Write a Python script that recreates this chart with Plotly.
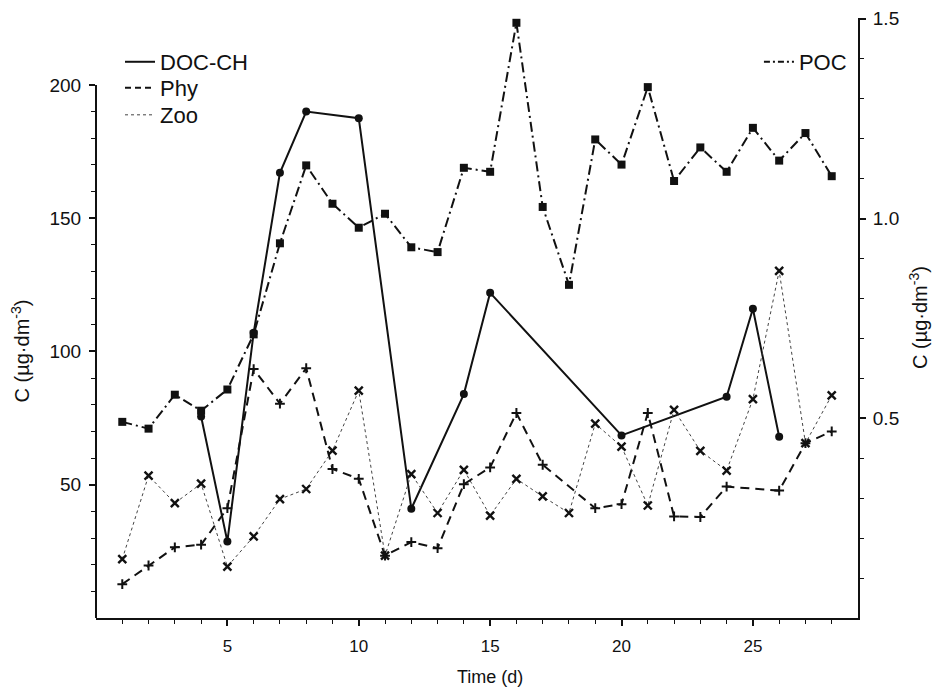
import plotly.graph_objects as go

# ---- data ----
doc_days = [4, 5, 6, 7, 8, 10, 12, 14, 15, 20, 24, 25, 26]
doc_vals = [75.6, 28.7, 107, 167, 190, 187.5, 41, 84, 122, 68.5, 83, 116, 68]

phy_days = [1, 2, 3, 4, 5, 6, 7, 8, 9, 10, 11, 12, 13, 14, 15, 16, 17, 19, 20, 21, 22, 23, 24, 26, 27, 28]
phy_vals = [12.7, 19.7, 26.5, 27.5, 41.2, 93.4, 80.4, 93.7, 55.9, 52.2, 23.4, 28.5, 26.2, 50.2,
            56.5, 76.9, 57.5, 41.2, 42.7, 76.9, 38.1, 37.9, 49.3, 47.8, 65.6, 70]

zoo_days = list(range(1, 29))
zoo_vals = [22.1, 53.4, 43.1, 50.4, 19.3, 30.6, 44.6, 48.4, 62.8, 85.3, 23.4, 54.0, 39.4, 55.6,
            38.4, 52.2, 45.6, 39.4, 72.9, 64.3, 42.2, 78.1, 62.7, 55.3, 82.1, 130.2, 65.6, 83.5]

poc_days = list(range(1, 29))
poc_vals = [0.491, 0.474, 0.559, 0.519, 0.572, 0.710, 0.938, 1.133, 1.037, 0.977, 1.012, 0.928,
            0.916, 1.127, 1.117, 1.490, 1.029, 0.834, 1.198, 1.135, 1.329, 1.094, 1.178, 1.117,
            1.227, 1.145, 1.214, 1.106]

x_ticks = [5, 10, 15, 20, 25]
y_ticks = [50, 100, 150, 200]
y2_ticks = [0.5, 1.0, 1.5]
y2_ticktext = ["0.5", "1.0", "1.5"]

FONT = "Liberation Sans, Arial, Helvetica, sans-serif"
BLACK = "#111111"

fig = go.Figure()

# data traces
fig.add_trace(go.Scatter(x=doc_days, y=doc_vals, mode="lines+markers", showlegend=False,
                         line=dict(color=BLACK, width=2),
                         marker=dict(symbol="circle", size=8, color=BLACK)))
fig.add_trace(go.Scatter(x=phy_days, y=phy_vals, mode="lines+markers", showlegend=False,
                         line=dict(color=BLACK, width=2, dash="9px,6px"),
                         marker=dict(symbol="cross-thin", size=7, color=BLACK,
                                     line=dict(color=BLACK, width=2))))
fig.add_trace(go.Scatter(x=zoo_days, y=zoo_vals, mode="lines+markers", showlegend=False,
                         line=dict(color="#444444", width=1, dash="dot"),
                         marker=dict(symbol="x-thin", size=8, color=BLACK,
                                     line=dict(color=BLACK, width=2.4))))
fig.add_trace(go.Scatter(x=poc_days, y=poc_vals, yaxis="y2", mode="lines+markers", showlegend=False,
                         line=dict(color=BLACK, width=2, dash="10px,4px,2px,4px"),
                         marker=dict(symbol="square", size=8, color=BLACK)))

# legend-only entries (lines only, as in the reference)
fig.add_trace(go.Scatter(x=[None], y=[None], mode="lines", name="DOC-CH", legend="legend",
                         line=dict(color=BLACK, width=2)))
fig.add_trace(go.Scatter(x=[None], y=[None], mode="lines", name="Phy", legend="legend2",
                         line=dict(color=BLACK, width=2, dash="6px,4px")))
fig.add_trace(go.Scatter(x=[None], y=[None], mode="lines", name="Zoo", legend="legend3",
                         line=dict(color="#444444", width=1, dash="dot")))
fig.add_trace(go.Scatter(x=[None], y=[None], yaxis="y2", mode="lines", name="POC", legend="legend4",
                         line=dict(color=BLACK, width=2, dash="6px,3px,2px,3px")))

def leg(x, y):
    return dict(x=x, y=y, xanchor="left", yanchor="middle", bgcolor="rgba(0,0,0,0)",
                font=dict(size=22), itemwidth=30)

fig.update_layout(
    width=932, height=685,
    margin=dict(l=88, r=82, t=10, b=75, autoexpand=False),
    paper_bgcolor="white", plot_bgcolor="white",
    font=dict(family=FONT, color=BLACK, size=18),
    xaxis=dict(range=[0, 29], showgrid=False, zeroline=False, automargin=False,
               showline=True, linecolor=BLACK, linewidth=2,
               tickmode="array", tickvals=x_ticks, ticks="outside", ticklen=6, tickwidth=1.5,
               tickcolor=BLACK, tickfont=dict(size=17), ticklabelstandoff=6,
               minor=dict(tickmode="array", tickvals=list(range(1, 29)), ticks="outside",
                          ticklen=4, tickwidth=1, tickcolor=BLACK)),
    yaxis=dict(range=[0, 225.1], showgrid=False, zeroline=False, showline=False, automargin=False,
               tickmode="array", tickvals=y_ticks, ticks="outside", ticklen=6, tickwidth=1.5,
               tickcolor=BLACK, tickfont=dict(size=19), ticklabelstandoff=4,
               minor=dict(tickmode="array", tickvals=list(range(10, 200, 10)), ticks="outside",
                          ticklen=4, tickwidth=1, tickcolor=BLACK)),
    yaxis2=dict(range=[0, 1.502], overlaying="y", side="right", showgrid=False, zeroline=False,
                automargin=False, showline=True, linecolor=BLACK, linewidth=2,
                tickmode="array", tickvals=y2_ticks, ticktext=y2_ticktext, ticks="outside",
                ticklen=6, tickwidth=1.5, tickcolor=BLACK, tickfont=dict(size=19),
                ticklabelstandoff=3,
                minor=dict(tickmode="array", tickvals=[round(0.1 * i, 1) for i in range(1, 15)],
                           ticks="outside", ticklen=4, tickwidth=1, tickcolor=BLACK)),
    legend=leg(0.0315, 0.9267),
    legend2=leg(0.0315, 0.8833),
    legend3=leg(0.0315, 0.8383),
    legend4=leg(0.870, 0.9267),
    shapes=[dict(type="line", xref="paper", yref="y", x0=0, x1=0, y0=0, y1=200,
                 line=dict(color=BLACK, width=2))],
    annotations=[
        dict(text="C (µg·dm<sup>-3</sup>)", xref="paper", yref="y", x=0, y=100,
             xshift=-76, textangle=-90, showarrow=False, font=dict(size=20),
             xanchor="center", yanchor="middle"),
        dict(text="C (µg·dm<sup>-3</sup>)", xref="paper", yref="paper", x=1, y=0.5,
             xshift=60, textangle=-90, showarrow=False, font=dict(size=20),
             xanchor="center", yanchor="middle"),
        dict(text="Time (d)", xref="x", yref="paper", x=15, y=0, yshift=-59,
             showarrow=False, font=dict(size=18), xanchor="center", yanchor="middle"),
    ],
)

fig.write_html("out.html")
